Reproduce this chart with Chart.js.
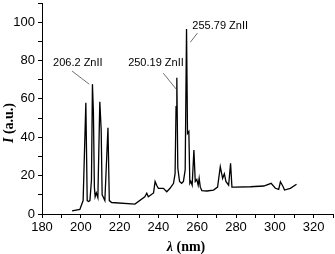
<!DOCTYPE html>
<html>
<head>
<meta charset="utf-8">
<script src="https://cdn.jsdelivr.net/npm/chart.js@4/dist/chart.umd.min.js"></script>
<style>
    html, body { margin: 0; padding: 0; background: #fff; }
    #wrap { width: 335px; height: 254px; }
</style>
</head>
<body>
<div id="wrap"><canvas id="spectrum"></canvas></div>
<script>
// wavelength (nm) and intensity (a.u.)
var wavelengths = [195.5, 199.5, 201.2, 202.6, 203.3, 204.0, 204.7, 205.5, 206.0, 206.5, 207.0, 207.4, 208.0, 208.8, 209.8, 210.5, 211.0, 211.5, 212.4, 214.0, 214.7, 215.9, 227.9, 233.0, 234.0, 234.8, 237.5, 238.3, 239.1, 240.0, 242.6, 244.3, 246.0, 247.8, 248.6, 249.1, 249.5, 250.0, 250.9, 252.0, 252.9, 253.8, 254.5, 255.0, 255.7, 256.2, 256.7, 257.4, 258.3, 259.0, 259.8, 260.5, 261.0, 261.6, 262.4, 265.0, 268.4, 270.5, 271.9, 273.1, 274.0, 274.8, 276.2, 277.2, 277.9, 279.7, 287.4, 294.3, 298.1, 300.3, 302.0, 302.9, 304.3, 305.0, 308.0, 311.2];
var intensities = [1.6, 2.4, 7.0, 58.0, 7.0, 6.5, 7.0, 17.7, 67.7, 53.0, 14.0, 9.0, 11.0, 8.5, 58.5, 44.0, 10.0, 9.0, 7.0, 45.0, 7.0, 6.0, 5.2, 9.0, 10.8, 9.0, 11.0, 17.0, 15.0, 13.4, 13.4, 11.6, 13.4, 16.0, 21.0, 56.0, 71.0, 24.0, 17.0, 16.0, 17.0, 23.0, 96.4, 42.0, 43.0, 16.0, 17.0, 15.0, 33.3, 17.0, 18.0, 15.0, 18.6, 14.0, 12.2, 12.0, 12.5, 14.0, 24.7, 18.6, 21.0, 17.0, 15.0, 26.4, 14.0, 14.0, 14.2, 14.6, 16.0, 13.4, 12.8, 16.8, 14.2, 12.5, 13.4, 15.5];

// peak labels: text, where the text starts, and the leader line (start -> peak)
var peakLabels = ['206.2 ZnII', '250.19 ZnII', '255.79 ZnII'];
var labelSpots = [[185.7, 78.6], [224.4, 78.6], [257.5, 97.9]];
var lineStarts = [[195.5, 74.5], [242.5, 73.4], [260.1, 94.3]];
var peakAnchors = [[204.3, 67.7], [249.2, 65.1], [256.5, 89.6]];

var xTicks = { min: 180, max: 330, step: 10 };
var yTicks = { min: 0, max: 110, step: 10 };

var points = [];
for (var i = 0; i < wavelengths.length; i++) {
    points.push({ x: wavelengths[i], y: intensities[i] });
}

var decorations = {
    id: 'decorations',
    afterDraw: function (chart) {
        var ctx = chart.ctx;
        var xs = chart.scales.x, ys = chart.scales.y;
        ctx.save();

        // peak annotations with leader lines
        ctx.fillStyle = '#000';
        ctx.strokeStyle = '#333';
        ctx.lineWidth = 0.7;
        ctx.font = '11px "Liberation Sans", Arial, sans-serif';
        ctx.textBaseline = 'middle';
        ctx.textAlign = 'left';
        for (var i = 0; i < peakLabels.length; i++) {
            ctx.beginPath();
            ctx.moveTo(xs.getPixelForValue(lineStarts[i][0]), ys.getPixelForValue(lineStarts[i][1]));
            ctx.lineTo(xs.getPixelForValue(peakAnchors[i][0]), ys.getPixelForValue(peakAnchors[i][1]));
            ctx.stroke();
            ctx.fillText(peakLabels[i], xs.getPixelForValue(labelSpots[i][0]), ys.getPixelForValue(labelSpots[i][1]));
        }

        // x axis title: italic lambda + bold "(nm)"
        var italic = 'italic bold 14px "Liberation Serif", "Times New Roman", serif';
        var bold = 'bold 14px "Liberation Serif", "Times New Roman", serif';
        var part1 = '\u03bb', part2 = ' (nm)';
        ctx.font = italic;
        var w1 = ctx.measureText(part1).width;
        ctx.font = bold;
        var w2 = ctx.measureText(part2).width;
        var startX = 186 - (w1 + w2) / 2;
        ctx.font = italic;
        ctx.fillText(part1, startX, 247);
        ctx.font = bold;
        ctx.fillText(part2, startX + w1, 247);

        // y axis title, rotated
        ctx.translate(9, 123);
        ctx.rotate(-Math.PI / 2);
        part1 = 'I';
        part2 = ' (a.u.)';
        ctx.font = italic;
        w1 = ctx.measureText(part1).width;
        ctx.font = bold;
        w2 = ctx.measureText(part2).width;
        startX = -(w1 + w2) / 2;
        ctx.font = italic;
        ctx.fillText(part1, startX, 0);
        ctx.font = bold;
        ctx.fillText(part2, startX + w1, 0);

        ctx.restore();
    }
};

Chart.defaults.font.family = '"Liberation Sans", Arial, sans-serif';
Chart.defaults.color = '#000';

new Chart(document.getElementById('spectrum'), {
    type: 'line',
    data: {
        datasets: [{
            data: points,
            borderColor: '#000',
            borderWidth: 1.3,
            pointRadius: 0,
            tension: 0,
            fill: false
        }]
    },
    options: {
        responsive: true,
        maintainAspectRatio: false,
        animation: false,
        layout: { padding: { top: 3, right: 2, left: 0, bottom: 0 } },
        plugins: {
            legend: { display: false },
            tooltip: { enabled: false }
        },
        scales: {
            x: {
                type: 'linear',
                min: xTicks.min,
                max: xTicks.max,
                border: { color: '#000', width: 1 },
                grid: { drawOnChartArea: false, tickLength: 4, color: '#000' },
                ticks: {
                    stepSize: xTicks.step,
                    autoSkip: false,
                    maxRotation: 0,
                    padding: 2,
                    font: { size: 13 },
                    callback: function (v) { return v % 20 === 0 ? v : ''; }
                },
                afterFit: function (scale) {
                    scale.height = 40;
                    scale.paddingLeft = 0;
                    scale.paddingRight = 0;
                }
            },
            y: {
                min: yTicks.min,
                max: yTicks.max,
                border: { color: '#000', width: 1 },
                grid: { drawOnChartArea: false, tickLength: 4, color: '#000' },
                ticks: {
                    stepSize: yTicks.step,
                    autoSkip: false,
                    padding: 3,
                    font: { size: 13 },
                    callback: function (v) { return v % 20 === 0 ? v : ''; }
                },
                afterFit: function (scale) {
                    scale.width = 42;
                    scale.paddingTop = 0;
                    scale.paddingBottom = 0;
                }
            }
        }
    },
    plugins: [decorations]
});
</script>
</body>
</html>
